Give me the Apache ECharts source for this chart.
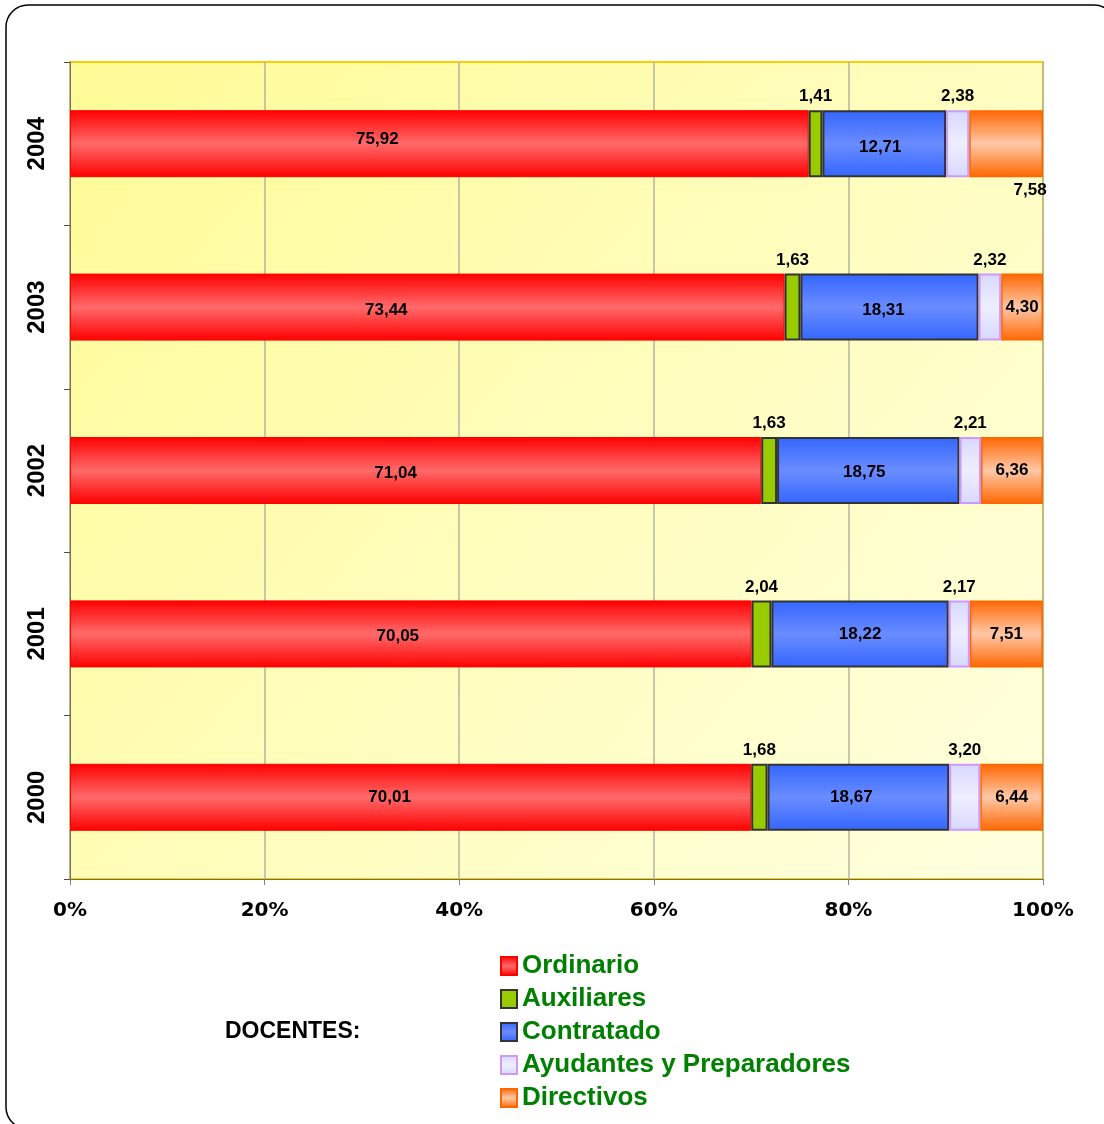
<!DOCTYPE html>
<html>
<head>
<meta charset="utf-8">
<script src="https://cdn.jsdelivr.net/npm/echarts@6/dist/echarts.min.js"></script>
<style>
  html, body { margin: 0; padding: 0; background: #fff; }
  #main { width: 1104px; height: 1124px; }
</style>
</head>
<body>
<div id="main"></div>
<script>
var years = ['2000', '2001', '2002', '2003', '2004'];
var ordinario = [70.01, 70.05, 71.04, 73.44, 75.92];
var auxiliares = [1.68, 2.04, 1.63, 1.63, 1.41];
var contratado = [18.67, 18.22, 18.75, 18.31, 12.71];
var ayudantes = [3.20, 2.17, 2.21, 2.32, 2.38];
var directivos = [6.44, 7.51, 6.36, 4.30, 7.58];
var xTicks = ['0%', '20%', '40%', '60%', '80%', '100%'];

// label nudges (px) as placed in the original chart
var ordLabelShift = [[-21, 0], [-13, 2], [-20, 3], [-41, 3], [-62, -4]];
var conLabelShift = [[-7, 0], [0, 0], [-4, 2], [-6, 3], [-4, 4]];

function vgrad(edge, mid) {
    return new echarts.graphic.LinearGradient(0, 0, 0, 1, [
        {offset: 0, color: edge},
        {offset: 0.5, color: mid},
        {offset: 1, color: edge}
    ]);
}

function fmt(p) {
    return p.value.toFixed(2).replace('.', ',');
}

function shifted(values, shifts) {
    return values.map(function (v, i) {
        return {value: v, label: {offset: shifts[i]}};
    });
}

var labelBase = {
    show: true,
    formatter: fmt,
    color: '#000',
    fontFamily: 'Arial, Liberation Sans',
    fontWeight: 'bold',
    fontSize: 17
};

function series(name, data, style, labelPos) {
    return {
        name: name,
        type: 'bar',
        stack: 'total',
        barWidth: 67,
        data: data,
        itemStyle: style,
        label: Object.assign({}, labelBase, {position: labelPos, distance: 5})
    };
}

// Directivos 2004 label sits under the bar
var directivosData = directivos.map(function (v, i) {
    if (i === 4) {
        return {value: v, label: {position: 'bottom', offset: [24, 0]}};
    }
    return v;
});

var option = {
    animation: false,
    title: {
        text: 'DOCENTES:',
        left: 220,
        top: 1015,
        textStyle: {fontFamily: 'Arial, Liberation Sans', fontWeight: 'bold', fontSize: 23, color: '#000'}
    },
    legend: {
        orient: 'vertical',
        left: 495,
        top: 948,
        itemGap: 7,
        itemWidth: 16,
        itemHeight: 18,
        icon: 'rect',
        textStyle: {fontFamily: 'Arial, Liberation Sans', fontWeight: 'bold', fontSize: 26, lineHeight: 26, color: '#008000'},
        data: ['Ordinario', 'Auxiliares', 'Contratado', 'Ayudantes y Preparadores', 'Directivos']
    },
    graphic: [{
        type: 'rect',
        shape: {x: 6, y: 5, width: 1110, height: 1124, r: 22},
        style: {fill: 'none', stroke: '#000', lineWidth: 1.5},
        z: -10
    }],
    grid: {
        left: 70,
        right: 61,
        top: 62,
        bottom: 245,
        show: true,
        borderColor: '#ffcc00',
        borderWidth: 2,
        backgroundColor: new echarts.graphic.LinearGradient(0, 0, 1, 1, [
            {offset: 0, color: '#fffb96'},
            {offset: 1, color: '#ffffe0'}
        ])
    },
    xAxis: {
        type: 'value',
        min: 0,
        max: 100,
        interval: 20,
        axisLine: {show: true, lineStyle: {color: '#707050', width: 1}},
        axisTick: {show: true, length: 6, lineStyle: {color: '#808080'}},
        splitLine: {show: true, lineStyle: {color: '#b4b4a0', width: 1.5}},
        axisLabel: {
            margin: 22,
            fontFamily: 'Verdana, DejaVu Sans',
            fontWeight: 'bold',
            fontSize: 20,
            color: '#000',
            formatter: function (v) { return xTicks[v / 20]; }
        }
    },
    yAxis: {
        type: 'category',
        data: years,
        axisLine: {show: true, lineStyle: {color: '#707070', width: 1}},
        axisTick: {show: true, length: 6, lineStyle: {color: '#505050'}},
        axisLabel: {
            rotate: 90,
            margin: 21,
            fontFamily: 'Arial, Liberation Sans',
            fontWeight: 'bold',
            fontSize: 24,
            color: '#000'
        }
    },
    series: [
        series('Ordinario', shifted(ordinario, ordLabelShift),
            {color: vgrad('#ff0000', '#ff6a6a'), borderColor: '#ff0000', borderWidth: 1}, 'inside'),
        series('Auxiliares', auxiliares,
            {color: '#99cc00', borderColor: '#333333', borderWidth: 2}, 'top'),
        series('Contratado', shifted(contratado, conLabelShift),
            {color: vgrad('#3366ff', '#6a8cff'), borderColor: '#333333', borderWidth: 2}, 'inside'),
        series('Ayudantes y Preparadores', ayudantes,
            {color: vgrad('#d8d8ff', '#eeeeff'), borderColor: '#cc99ff', borderWidth: 2}, 'top'),
        series('Directivos', directivosData,
            {color: vgrad('#ff6600', '#ffc8a8'), borderColor: '#ff6600', borderWidth: 1.5}, 'inside')
    ]
};

var myChart = echarts.init(document.getElementById('main'));
myChart.setOption(option);
</script>
</body>
</html>
